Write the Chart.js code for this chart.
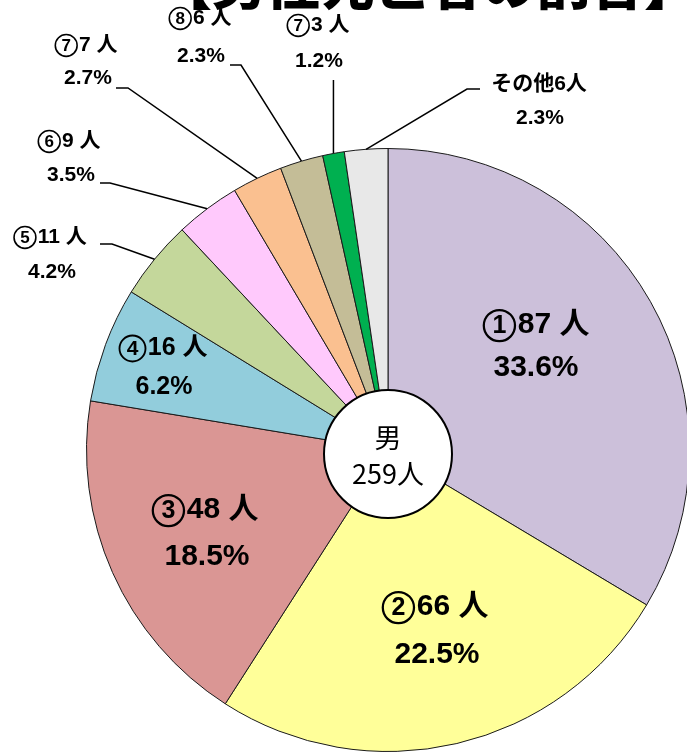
<!DOCTYPE html>
<html lang="ja">
<head>
<meta charset="utf-8">
<title>男 259人</title>
<script src="https://cdn.jsdelivr.net/npm/chart.js@4.4.1/dist/chart.umd.min.js"></script>
<style>
  html, body { margin: 0; padding: 0; background: #fff; overflow: hidden; }
  #wrap { width: 687px; height: 752px; overflow: hidden; }
  canvas { display: block; }
</style>
</head>
<body>
<div id="wrap"><canvas id="chart" width="700" height="752"></canvas></div>
<script>
const categories = ['①', '②', '③', '④', '⑤', '⑥', '⑦', '⑧', '⑦', 'その他'];
const counts = [87, 66, 48, 16, 11, 9, 7, 6, 3, 6];
const percentLabels = ['33.6%', '22.5%', '18.5%', '6.2%', '4.2%', '3.5%', '2.7%', '2.3%', '1.2%', '2.3%'];
const centerLabel = ['男', '259人'];
const titleText = '【男性死亡者の割合】';

const colors = ['#CCC0DA', '#FFFF99', '#DA9694', '#92CDDC', '#C4D79B',
                '#FFC9FC', '#FAC090', '#C4BD97', '#00B050', '#E8E8E8'];

const FONT = "'Liberation Sans', 'Noto Sans CJK JP', sans-serif";
const CJK = "'Noto Sans CJK JP', sans-serif";

// label layout (text centres), inside the slices
const insideLabels = [
    { index: 0, name: [536, 325], pct: [536, 368], size: 30 },
    { index: 1, name: [435, 607], pct: [437, 655], size: 30 },
    { index: 2, name: [205, 510], pct: [207, 557], size: 30 },
    { index: 3, name: [163, 348], pct: [164, 387], size: 25 },
];

// outside labels with leader lines: stub points, then the slice edge
const outsideLabels = [
    { index: 4, name: [50, 237], pct: [52, 272], stub: [[100, 244], [112, 244]] },
    { index: 5, name: [69, 141], pct: [71, 175], stub: [[100, 183], [110, 183]] },
    { index: 6, name: [86, 45], pct: [88, 78], stub: [[116, 88], [128, 88]] },
    { index: 7, name: [200, 18], pct: [201, 56], stub: [[230, 65], [241, 65]] },
    { index: 8, name: [318, 25], pct: [319, 61], vertical: 80 },
    { index: 9, name: [539, 84], pct: [540, 118], stub: [[480, 89], [467, 89]] },
];

const circledDigit = s => {
    const c = s.charCodeAt(0);
    return s.length === 1 && c >= 0x2460 && c <= 0x2473 ? String(c - 0x2460 + 1) : null;
};

// "①87人": circled digit drawn as a ring + digit, then the count
const drawName = (ctx, i, pos, size) => {
    const digit = circledDigit(categories[i]);
    const tail = digit ? counts[i] + ' 人' : categories[i] + counts[i] + '人';
    ctx.font = `bold ${size}px ${FONT}`;
    const wTail = ctx.measureText(tail).width;
    const d = digit ? size * 1.12 : 0;
    const gap = digit ? size * 0.05 : 0;
    const x0 = pos[0] - (d + gap + wTail) / 2;
    if (digit) {
        const cx = x0 + d / 2;
        const cy = pos[1] + size * 0.02;
        ctx.beginPath();
        ctx.arc(cx, cy, d / 2 - size * 0.04, 0, Math.PI * 2);
        ctx.lineWidth = Math.max(1.5, size * 0.075);
        ctx.strokeStyle = '#000';
        ctx.stroke();
        ctx.font = `bold ${Math.round(size * 0.82)}px ${FONT}`;
        ctx.textAlign = 'center';
        ctx.fillText(digit, cx, cy + size * 0.03);
    }
    ctx.font = `bold ${size}px ${FONT}`;
    ctx.textAlign = 'left';
    ctx.fillText(tail, x0 + d + gap, pos[1]);
    ctx.textAlign = 'center';
};

const drawText = (ctx, text, pos, size) => {
    ctx.font = `bold ${size}px ${FONT}`;
    ctx.fillText(text, pos[0], pos[1]);
};

const labelsPlugin = {
    id: 'pieLabels',
    afterDatasetsDraw(chart) {
        const ctx = chart.ctx;
        const arcs = chart.getDatasetMeta(0).data;
        const center = arcs[0].getProps(['x', 'y'], true);
        ctx.save();

        // title (cut off at the top edge like the source)
        ctx.fillStyle = '#000';
        ctx.textAlign = 'left';
        ctx.textBaseline = 'bottom';
        ctx.font = `900 54px ${CJK}`;
        ctx.fillText(titleText, 158, 11);

        // centre circle
        ctx.beginPath();
        ctx.arc(center.x, center.y + 4, 64, 0, Math.PI * 2);
        ctx.fillStyle = '#fff';
        ctx.fill();
        ctx.lineWidth = 2;
        ctx.strokeStyle = '#000';
        ctx.stroke();

        ctx.fillStyle = '#000';
        ctx.textAlign = 'center';
        ctx.textBaseline = 'middle';
        ctx.font = `27px ${CJK}`;
        ctx.fillText(centerLabel[0], center.x, center.y - 12);
        ctx.fillText(centerLabel[1], center.x, center.y + 24);

        // leader lines
        ctx.lineWidth = 1.5;
        outsideLabels.forEach(l => {
            const a = arcs[l.index].getProps(['x', 'y', 'startAngle', 'endAngle', 'outerRadius'], true);
            const mid = (a.startAngle + a.endAngle) / 2;
            const ax = a.x + Math.cos(mid) * a.outerRadius;
            const ay = a.y + Math.sin(mid) * a.outerRadius;
            ctx.beginPath();
            if (l.vertical !== undefined) {
                ctx.moveTo(ax, l.vertical);
            } else {
                ctx.moveTo(l.stub[0][0], l.stub[0][1]);
                ctx.lineTo(l.stub[1][0], l.stub[1][1]);
            }
            ctx.lineTo(ax, ay);
            ctx.stroke();
        });

        insideLabels.forEach(l => {
            drawName(ctx, l.index, l.name, l.size);
            drawText(ctx, percentLabels[l.index], l.pct, l.size);
        });
        outsideLabels.forEach(l => {
            drawName(ctx, l.index, l.name, 21);
            drawText(ctx, percentLabels[l.index], l.pct, 21);
        });
        ctx.restore();
    }
};

new Chart(document.getElementById('chart'), {
    type: 'pie',
    data: {
        labels: categories.map((c, i) => c + counts[i] + '人'),
        datasets: [{
            data: counts,
            backgroundColor: colors,
            borderColor: '#1a1a1a',
            borderWidth: 1,
        }]
    },
    options: {
        responsive: false,
        animation: false,
        layout: { padding: { left: 86, right: 10, top: 148, bottom: 0 } },
        plugins: {
            legend: { display: false },
            tooltip: { enabled: false },
            title: { display: false },
        }
    },
    plugins: [labelsPlugin]
});
</script>
</body>
</html>
